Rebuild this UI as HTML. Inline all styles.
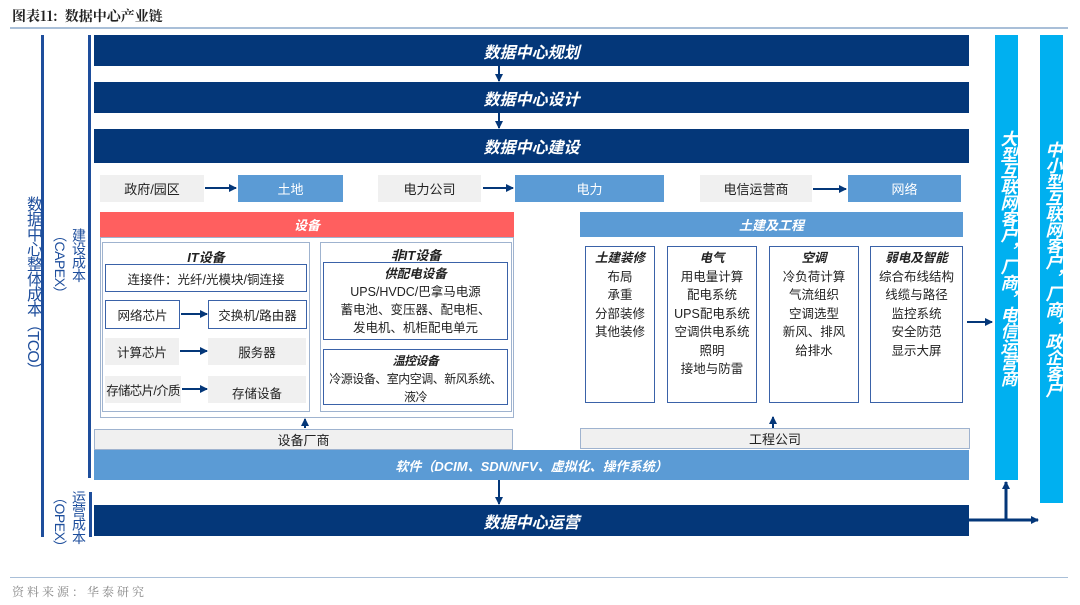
<!DOCTYPE html>
<html><head><meta charset="utf-8"><style>
*{margin:0;padding:0;box-sizing:border-box}
body{width:1080px;height:605px;background:#fff;position:relative;overflow:hidden;font-family:"Liberation Sans","Noto Sans CJK SC",sans-serif;color:#222}
.a{position:absolute}
.dk{background:#043779;color:#fff;font-weight:bold;font-style:italic;font-size:16px;display:flex;align-items:center;justify-content:center}
.bl{background:#5b9bd5;color:#fff;font-size:13px;display:flex;align-items:center;justify-content:center}
.gr{background:#f0f0f0;font-size:13px;display:flex;align-items:center;justify-content:center}
.bx{border:1.5px solid #3a62a8;background:#fff;font-size:12.5px;display:flex;align-items:center;justify-content:center}
.col{border:1.5px solid #3a62a8;background:#fff;font-size:12.5px;text-align:center;line-height:18.5px;padding-top:2px}
.col b{font-style:italic}
.v{writing-mode:vertical-rl;color:#1e4e9c;white-space:nowrap}
.cy{background:#00b0f0;color:#fff;font-weight:bold;font-style:italic;font-size:17px;writing-mode:vertical-rl;display:flex;align-items:center;justify-content:center;line-height:22px}
</style></head><body>
<div class="a" style="left:12px;top:6px;font-size:14px;font-weight:bold;font-family:'Noto Serif CJK SC','Liberation Sans',serif">图表11:&nbsp;&nbsp;数据中心产业链</div>
<div class="a" style="left:10px;top:27px;width:1058px;height:2px;background:#a9bfd8"></div>
<div class="a" style="left:10px;top:577px;width:1058px;height:1px;background:#a9bfd8"></div>
<div class="a" style="left:12px;top:583px;font-size:12px;color:#888;letter-spacing:3px;font-family:'Noto Serif CJK SC',serif">资料来源：华泰研究</div>

<div class="a" style="left:41px;top:35px;width:3px;height:502px;background:#1e4e9c"></div>
<div class="a" style="left:88px;top:35px;width:3px;height:443px;background:#1e4e9c"></div>
<div class="a" style="left:89px;top:492px;width:3px;height:45px;background:#1e4e9c"></div>
<div class="a v" style="left:20px;top:196px;font-size:16px;letter-spacing:-1px">数据中心整体成本（TCO）</div>
<div class="a v" style="left:50px;top:228px;font-size:14px;line-height:19px;letter-spacing:-0.5px">建设成本<br>（CAPEX）</div>
<div class="a v" style="left:50px;top:490px;font-size:14px;line-height:19px;letter-spacing:-0.5px">运营成本<br>（OPEX）</div>

<div class="a dk" style="left:94px;top:35px;width:875px;height:31px">数据中心规划</div>
<div class="a dk" style="left:94px;top:82px;width:875px;height:31px">数据中心设计</div>
<div class="a dk" style="left:94px;top:129px;width:875px;height:34px">数据中心建设</div>
<svg class="a" style="left:0;top:0" width="1080" height="605">
<defs><marker id="m" markerWidth="8" markerHeight="8" refX="7" refY="4" orient="auto" markerUnits="userSpaceOnUse"><path d="M0,0L8,4L0,8z" fill="#043779"/></marker></defs>
<g stroke="#043779" stroke-width="2" fill="none">
<line x1="499" y1="66" x2="499" y2="81" marker-end="url(#m)"/>
<line x1="499" y1="113" x2="499" y2="128" marker-end="url(#m)"/>
<line x1="205" y1="188" x2="236" y2="188" marker-end="url(#m)"/>
<line x1="483" y1="188" x2="513" y2="188" marker-end="url(#m)"/>
<line x1="813" y1="189" x2="846" y2="189" marker-end="url(#m)"/>
<line x1="181" y1="314" x2="207" y2="314" marker-end="url(#m)"/>
<line x1="180" y1="351" x2="207" y2="351" marker-end="url(#m)"/>
<line x1="182" y1="389" x2="207" y2="389" marker-end="url(#m)"/>
<line x1="305" y1="428" x2="305" y2="419" marker-end="url(#m)"/>
<line x1="773" y1="428" x2="773" y2="417" marker-end="url(#m)"/>
<line x1="967" y1="322" x2="992" y2="322" marker-end="url(#m)"/>
<line x1="499" y1="480" x2="499" y2="504" marker-end="url(#m)"/>
<line x1="969" y1="520" x2="1038" y2="520" marker-end="url(#m)" stroke-width="3"/>
<line x1="1006" y1="520" x2="1006" y2="482" marker-end="url(#m)" stroke-width="3"/>
</g></svg>

<div class="a gr" style="left:100px;top:175px;width:104px;height:27px">政府/园区</div>
<div class="a bl" style="left:238px;top:175px;width:105px;height:27px">土地</div>
<div class="a gr" style="left:378px;top:175px;width:103px;height:27px">电力公司</div>
<div class="a bl" style="left:515px;top:175px;width:149px;height:27px">电力</div>
<div class="a gr" style="left:700px;top:175px;width:112px;height:27px">电信运营商</div>
<div class="a bl" style="left:848px;top:175px;width:113px;height:27px">网络</div>

<div class="a" style="left:100px;top:212px;width:414px;height:25px;background:#ff5f5f;color:#fff;font-weight:bold;font-style:italic;font-size:13px;display:flex;align-items:center;justify-content:center">设备</div>
<div class="a" style="left:100px;top:237px;width:414px;height:181px;border:1px solid #9fb3cf"></div>
<div class="a" style="left:102px;top:242px;width:208px;height:170px;border:1px solid #9fb3cf"></div>
<div class="a" style="left:320px;top:242px;width:192px;height:170px;border:1px solid #9fb3cf"></div>
<div class="a" style="left:102px;top:247px;width:208px;text-align:center;font-weight:bold;font-style:italic;font-size:13px">IT设备</div>
<div class="a bx" style="left:105px;top:264px;width:202px;height:28px">连接件：光纤/光模块/铜连接</div>
<div class="a bx" style="left:105px;top:300px;width:75px;height:29px">网络芯片</div>
<div class="a bx" style="left:208px;top:300px;width:99px;height:29px">交换机/路由器</div>
<div class="a gr" style="left:105px;top:338px;width:74px;height:27px;font-size:12.5px">计算芯片</div>
<div class="a gr" style="left:208px;top:338px;width:98px;height:27px;font-size:12.5px">服务器</div>
<div class="a gr" style="left:105px;top:376px;width:76px;height:27px;font-size:12.5px;white-space:nowrap;letter-spacing:-0.7px">存储芯片/介质</div>
<div class="a gr" style="left:208px;top:376px;width:98px;height:27px;font-size:12.5px;padding-top:6px">存储设备</div>
<div class="a" style="left:320px;top:245px;width:192px;text-align:center;font-weight:bold;font-style:italic;font-size:13px">非IT设备</div>
<div class="a col" style="left:323px;top:262px;width:185px;height:78px;line-height:18px"><b>供配电设备</b><br>UPS/HVDC/巴拿马电源<br>蓄电池、变压器、配电柜、<br>发电机、机柜配电单元</div>
<div class="a col" style="left:323px;top:349px;width:185px;height:56px;line-height:18px;font-size:12px;letter-spacing:-0.5px;white-space:nowrap"><b>温控设备</b><br>冷源设备、室内空调、新风系统、<br>液冷</div>

<div class="a" style="left:580px;top:212px;width:383px;height:25px;background:#5b9bd5;color:#fff;font-weight:bold;font-style:italic;font-size:13px;display:flex;align-items:center;justify-content:center">土建及工程</div>
<div class="a col" style="left:585px;top:246px;width:70px;height:157px"><b>土建装修</b><br>布局<br>承重<br>分部装修<br>其他装修</div>
<div class="a col" style="left:667px;top:246px;width:90px;height:157px"><b>电气</b><br>用电量计算<br>配电系统<br>UPS配电系统<br>空调供电系统<br>照明<br>接地与防雷</div>
<div class="a col" style="left:769px;top:246px;width:90px;height:157px"><b>空调</b><br>冷负荷计算<br>气流组织<br>空调选型<br>新风、排风<br>给排水</div>
<div class="a col" style="left:870px;top:246px;width:93px;height:157px"><b>弱电及智能</b><br>综合布线结构<br>线缆与路径<br>监控系统<br>安全防范<br>显示大屏</div>

<div class="a gr" style="left:94px;top:429px;width:419px;height:21px;border:1px solid #9fb3cf">设备厂商</div>
<div class="a gr" style="left:580px;top:428px;width:390px;height:21px;border:1px solid #9fb3cf">工程公司</div>
<div class="a bl" style="left:94px;top:450px;width:875px;height:30px;font-weight:bold;font-style:italic;font-size:13px">软件（DCIM、SDN/NFV、虚拟化、操作系统）</div>
<div class="a dk" style="left:94px;top:505px;width:875px;height:31px">数据中心运营</div>

<div class="a cy" style="left:995px;top:35px;width:23px;height:445px;letter-spacing:-1px">大型互联网客户，厂商，电信运营商</div>
<div class="a cy" style="left:1040px;top:35px;width:23px;height:468px;letter-spacing:-1px">中小型互联网客户，厂商，政企客户</div>
</body></html>
